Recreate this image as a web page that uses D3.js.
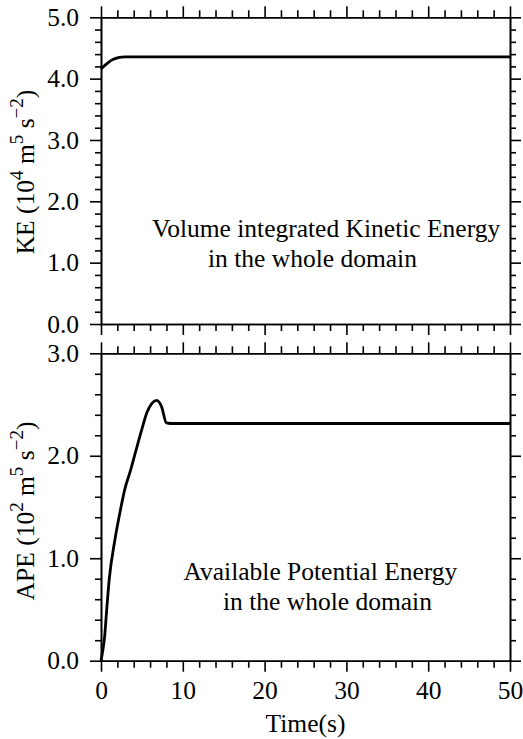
<!DOCTYPE html>
<html>
<head>
<meta charset="utf-8">
<script src="https://cdn.jsdelivr.net/npm/d3@7"></script>
<style>
  html, body { margin: 0; padding: 0; background: #fff; }
  svg { display: block; }
  text { font-family: "Liberation Serif", "Times New Roman", Times, "DejaVu Serif", serif; fill: #000; }
</style>
</head>
<body>
<svg id="chart" width="523" height="739"></svg>
<script>
// ---- data ----
const keTime = [0, 0.5, 1.0, 1.5, 2.0, 2.5, 3.0, 4.0, 5.0, 10, 20, 30, 40, 50];
const keValue = [4.155, 4.22, 4.275, 4.315, 4.34, 4.352, 4.355, 4.355, 4.355, 4.355, 4.355, 4.355, 4.355, 4.355];

const apeTime = [0, 0.2, 0.45, 0.66, 1.0, 1.7, 2.3, 2.9, 3.6, 4.3, 5.0, 5.6, 6.2, 6.8, 7.4, 8.0, 8.5, 10, 20, 30, 40, 50];
const apeValue = [0, 0.09, 0.24, 0.46, 0.79, 1.18, 1.44, 1.67, 1.855, 2.06, 2.26, 2.42, 2.51, 2.54, 2.48, 2.32, 2.315, 2.315, 2.315, 2.315, 2.315, 2.315];

const xTicks = [0, 10, 20, 30, 40, 50];
const keTicks = [0, 1, 2, 3, 4, 5];
const apeTicks = [0, 1, 2, 3];

const keTitle = ["Volume integrated Kinetic Energy", "in the whole domain"];
const apeTitle = ["Available Potential Energy", "in the whole domain"];

// ---- layout ----
const svg = d3.select("#chart");
const FS = 25.5;
const FONT = '"Liberation Serif", "Times New Roman", Times, "DejaVu Serif", serif';
const x = d3.scaleLinear().domain([0, 50]).range([101, 510]);
const yKE = d3.scaleLinear().domain([0, 5]).range([324, 17.3]);
const yAPE = d3.scaleLinear().domain([0, 3]).range([660.7, 353.3]);

const xMinor = d3.range(0, 50.001, 2).filter(v => v % 10 !== 0);
const minorOf = (max) => d3.range(0, max + 0.001, 0.2).map(v => +v.toFixed(1)).filter(v => Math.abs(v - Math.round(v)) > 1e-6);

function styleAxis(g) {
  g.attr("font-family", FONT).attr("font-size", FS);
  g.selectAll("path.domain").attr("stroke", "#000").attr("stroke-width", 1.6);
  g.selectAll(".tick line").attr("stroke", "#000").attr("stroke-width", 1.6);
  g.selectAll("text").style("font-family", FONT).style("font-size", FS + "px").attr("fill", "#000");
}

function panel(y, yTicks, yMax, showXLabels) {
  const [y0, y1] = y.range();
  svg.append("g").attr("transform", `translate(${x(0)},0)`)
    .call(d3.axisLeft(y).tickValues(yTicks).tickFormat(d3.format(".1f")).tickSize(11).tickSizeOuter(0).tickPadding(11))
    .call(styleAxis);
  svg.append("g").attr("transform", `translate(${x(0)},0)`)
    .call(d3.axisLeft(y).tickValues(minorOf(yMax)).tickFormat("").tickSize(6).tickSizeOuter(0))
    .call(styleAxis);
  svg.append("g").attr("transform", `translate(${x(50)},0)`)
    .call(d3.axisRight(y).tickValues(yTicks).tickFormat("").tickSize(11).tickSizeOuter(0))
    .call(styleAxis);
  svg.append("g").attr("transform", `translate(${x(50)},0)`)
    .call(d3.axisRight(y).tickValues(minorOf(yMax)).tickFormat("").tickSize(6).tickSizeOuter(0))
    .call(styleAxis);
  svg.append("g").attr("transform", `translate(0,${y1})`)
    .call(d3.axisTop(x).tickValues(xTicks).tickFormat("").tickSize(11).tickSizeOuter(0))
    .call(styleAxis);
  svg.append("g").attr("transform", `translate(0,${y1})`)
    .call(d3.axisTop(x).tickValues(xMinor).tickFormat("").tickSize(7).tickSizeOuter(0))
    .call(styleAxis);
  svg.append("g").attr("transform", `translate(0,${y0})`)
    .call(d3.axisBottom(x).tickValues(xTicks).tickFormat(showXLabels ? d3.format("d") : "").tickSize(11).tickSizeOuter(0).tickPadding(9))
    .call(styleAxis);
  svg.append("g").attr("transform", `translate(0,${y0})`)
    .call(d3.axisBottom(x).tickValues(xMinor).tickFormat("").tickSize(7).tickSizeOuter(0))
    .call(styleAxis);
}

panel(yKE, keTicks, 5, false);
panel(yAPE, apeTicks, 3, true);

// curves
const lineKE = d3.line().x((d, i) => x(keTime[i])).y(d => yKE(d)).curve(d3.curveMonotoneX);
svg.append("path").attr("d", lineKE(keValue)).attr("fill", "none").attr("stroke", "#000").attr("stroke-width", 2.8);
const lineAPE = d3.line().x((d, i) => x(apeTime[i])).y(d => yAPE(d)).curve(d3.curveMonotoneX);
svg.append("path").attr("d", lineAPE(apeValue)).attr("fill", "none").attr("stroke", "#000").attr("stroke-width", 2.8);

// in-plot annotations
function note(lines, xs, ys) {
  lines.forEach((s, i) => {
    svg.append("text").attr("x", xs[i]).attr("y", ys[i])
      .style("font-family", FONT).style("font-size", FS + "px").text(s);
  });
}
note(keTitle, [152, 208], [237, 267]);
note(apeTitle, [183.5, 223], [580, 610]);

// y axis titles with superscripts
function yTitle(prefix, exp, cy) {
  const t = svg.append("text")
    .attr("transform", `translate(34,${cy}) rotate(-90)`)
    .attr("text-anchor", "middle")
    .style("font-family", FONT)
    .style("font-size", FS + "px");
  t.append("tspan").text(prefix + " (10");
  t.append("tspan").attr("dy", -11).style("font-size", "19px").text(exp);
  t.append("tspan").attr("dy", 11).text(" m");
  t.append("tspan").attr("dy", -11).style("font-size", "19px").text("5");
  t.append("tspan").attr("dy", 11).text(" s");
  t.append("tspan").attr("dy", -11).style("font-size", "19px").text("\u22122");
  t.append("tspan").attr("dy", 11).text(")");
}
yTitle("KE", "4", 172);
yTitle("APE", "2", 511);

// x title
svg.append("text").attr("x", (x(0) + x(50)) / 2).attr("y", 732).attr("text-anchor", "middle")
  .style("font-family", FONT).style("font-size", FS + "px").text("Time(s)");
</script>
</body>
</html>
